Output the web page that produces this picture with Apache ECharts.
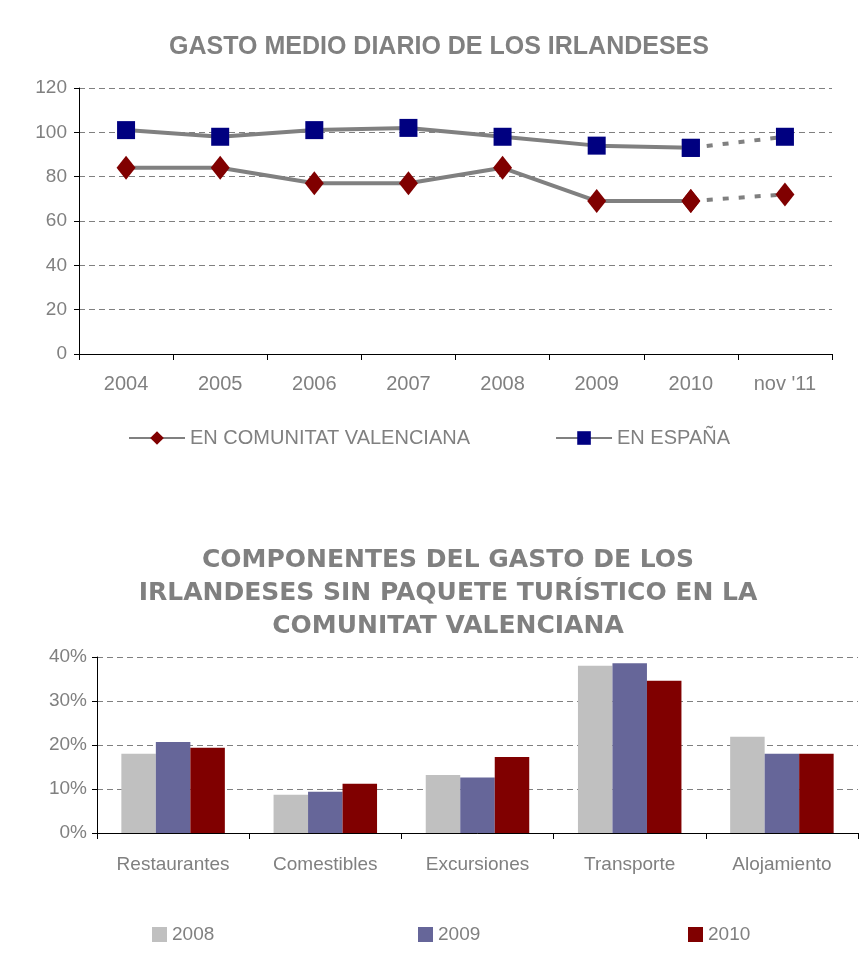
<!DOCTYPE html>
<html>
<head>
<meta charset="utf-8">
<script src="https://cdn.jsdelivr.net/npm/echarts@6/dist/echarts.min.js"></script>
<style>
  html, body { margin: 0; padding: 0; background: #fff; }
  #main { width: 860px; height: 954px; }
</style>
</head>
<body>
<div id="main"></div>
<script>
// gasto medio diario
var years = ['2004', '2005', '2006', '2007', '2008', '2009', '2010', "nov '11"];
var valenciana = [84, 84, 77, 77, 84, 69, 69, 72];
var espana = [101, 98, 101, 102, 98, 94, 93, 98];

// componentes del gasto
var componentes = ['Restaurantes', 'Comestibles', 'Excursiones', 'Transporte', 'Alojamiento'];
var g2008 = [18.0, 8.7, 13.2, 38.0, 21.9];
var g2009 = [20.7, 9.4, 12.6, 38.6, 18.0];
var g2010 = [19.4, 11.2, 17.3, 34.6, 18.0];

var grey = '#808080';
var font = 'Liberation Sans, Arial, sans-serif';

// solid part up to 2010, dotted part 2010 -> nov '11
function solid(arr) {
    return arr.map(function (v, i) { return i < arr.length - 1 ? v : null; });
}
function dotted(arr) {
    return arr.map(function (v, i) { return i >= arr.length - 2 ? v : null; });
}

var chart = echarts.init(document.getElementById('main'));

var option = {
    backgroundColor: '#fff',
    animation: false,
    textStyle: { fontFamily: font },
    title: [
        {
            text: 'GASTO MEDIO DIARIO DE LOS IRLANDESES',
            left: 434, top: 30, textAlign: 'center',
            textStyle: { color: grey, fontSize: 25, fontWeight: 'bold', fontFamily: font }
        },
        {
            text: 'COMPONENTES DEL GASTO DE LOS\nIRLANDESES SIN PAQUETE TURÍSTICO EN LA\nCOMUNITAT VALENCIANA',
            left: 443, top: 539, textAlign: 'center',
            textStyle: { color: grey, fontSize: 25, fontWeight: 'bold', lineHeight: 33,
                fontFamily: 'DejaVu Sans, sans-serif' }
        }
    ],
    legend: [
        {
            left: 123, top: 423, itemWidth: 56, itemHeight: 17, itemGap: 85,
            data: ['EN COMUNITAT VALENCIANA', 'EN ESPAÑA'],
            textStyle: { color: grey, fontSize: 20 }
        },
        {
            left: 147, top: 920, itemWidth: 15, itemHeight: 15, icon: 'rect',
            data: ['2008'], textStyle: { color: grey, fontSize: 19 }
        },
        {
            left: 413, top: 920, itemWidth: 15, itemHeight: 15, icon: 'rect',
            data: ['2009'], textStyle: { color: grey, fontSize: 19 }
        },
        {
            left: 683, top: 920, itemWidth: 15, itemHeight: 15, icon: 'rect',
            data: ['2010'], textStyle: { color: grey, fontSize: 19 }
        }
    ],
    grid: [
        { left: 79, right: 28, top: 88, bottom: 600 },
        { left: 97, right: 2, top: 657, bottom: 121 }
    ],
    xAxis: [
        {
            type: 'category', gridIndex: 0, data: years,
            axisLine: { lineStyle: { color: '#000', width: 1 } },
            axisTick: { show: true, length: 6, lineStyle: { color: '#000' } },
            axisLabel: { color: grey, fontSize: 20, margin: 20 }
        },
        {
            type: 'category', gridIndex: 1, data: componentes,
            axisLine: { lineStyle: { color: '#000', width: 1 } },
            axisTick: { show: true, length: 6, lineStyle: { color: '#000' } },
            axisLabel: { color: grey, fontSize: 19, margin: 22 }
        }
    ],
    yAxis: [
        {
            type: 'value', gridIndex: 0, min: 0, max: 120, interval: 20,
            axisLine: { show: true, lineStyle: { color: '#000' } },
            axisTick: { show: true, length: 5, lineStyle: { color: '#000' } },
            axisLabel: { color: grey, fontSize: 19, margin: 12 },
            splitLine: { lineStyle: { color: grey, type: [6, 4] } }
        },
        {
            type: 'value', gridIndex: 1, min: 0, max: 40, interval: 10,
            axisLine: { show: true, lineStyle: { color: '#000' } },
            axisTick: { show: true, length: 5, lineStyle: { color: '#000' } },
            axisLabel: { color: grey, fontSize: 19, margin: 10, formatter: '{value}%' },
            splitLine: { lineStyle: { color: grey, type: [6, 4] } }
        }
    ],
    series: [
        {
            name: 'EN COMUNITAT VALENCIANA', type: 'line', xAxisIndex: 0, yAxisIndex: 0,
            data: solid(valenciana), z: 3,
            symbol: 'diamond', symbolSize: [19, 24],
            itemStyle: { color: '#800000' },
            lineStyle: { color: grey, width: 4 }
        },
        {
            name: 'cv-dotted', type: 'line', xAxisIndex: 0, yAxisIndex: 0,
            data: dotted(valenciana), z: 2,
            symbol: 'diamond', symbolSize: [19, 24],
            itemStyle: { color: '#800000' },
            lineStyle: { color: grey, width: 4, type: [6, 10] }
        },
        {
            name: 'EN ESPAÑA', type: 'line', xAxisIndex: 0, yAxisIndex: 0,
            data: solid(espana), z: 3,
            symbol: 'rect', symbolSize: [18, 18],
            itemStyle: { color: '#000080' },
            lineStyle: { color: grey, width: 4 }
        },
        {
            name: 'es-dotted', type: 'line', xAxisIndex: 0, yAxisIndex: 0,
            data: dotted(espana), z: 2,
            symbol: 'rect', symbolSize: [18, 18],
            itemStyle: { color: '#000080' },
            lineStyle: { color: grey, width: 4, type: [6, 10] }
        },
        {
            name: '2008', type: 'bar', xAxisIndex: 1, yAxisIndex: 1,
            data: g2008, barGap: '0%', barCategoryGap: '32%',
            itemStyle: { color: '#C0C0C0' }
        },
        {
            name: '2009', type: 'bar', xAxisIndex: 1, yAxisIndex: 1,
            data: g2009, barGap: '0%', barCategoryGap: '32%',
            itemStyle: { color: '#666699' }
        },
        {
            name: '2010', type: 'bar', xAxisIndex: 1, yAxisIndex: 1,
            data: g2010, barGap: '0%', barCategoryGap: '32%',
            itemStyle: { color: '#800000' }
        }
    ]
};

chart.setOption(option);
</script>
</body>
</html>
